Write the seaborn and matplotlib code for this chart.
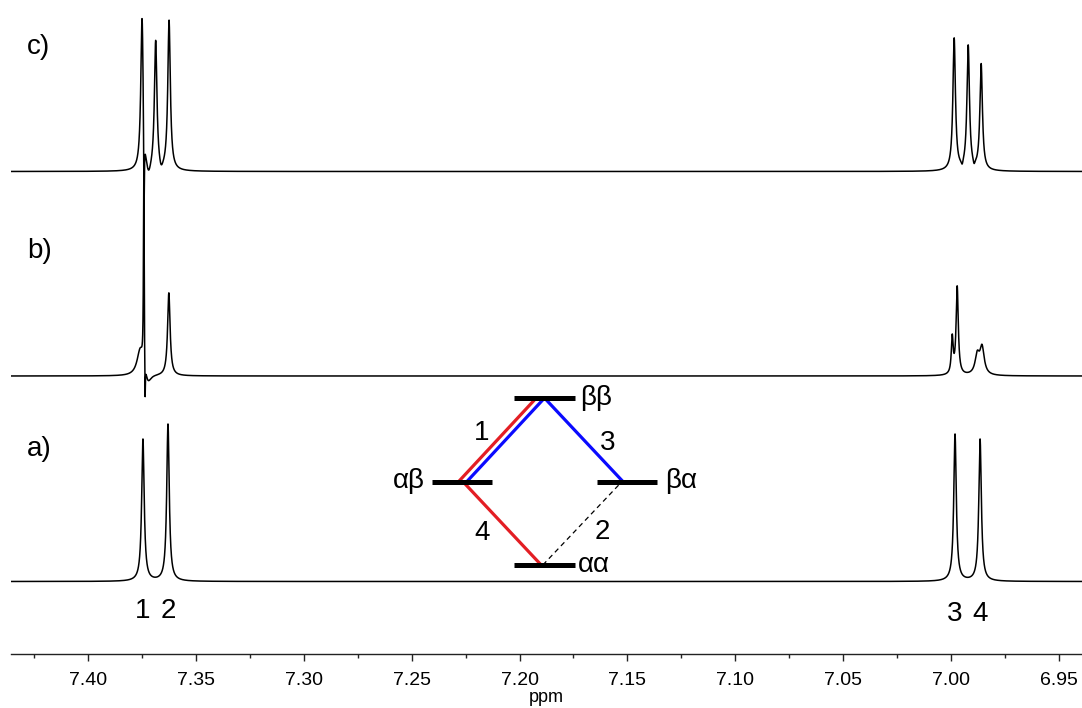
import numpy as np
import pandas as pd
import seaborn as sns
import matplotlib.pyplot as plt
from matplotlib.ticker import MultipleLocator, FormatStrFormatter

# peak tables: position (ppm), height, half width (ppm)
a_ppm = [7.3744, 7.3628, 6.9983, 6.9867]
a_height = [142, 157, 147, 142]
a_width = [0.0007, 0.0007, 0.0007, 0.0007]

b_ppm = [7.3740, 7.3756, 7.3722, 7.3734, 7.3624, 6.9996, 6.9973, 6.9880, 6.9858]
b_height = [195, 28, -12, -43, 83, 36, 88, 19, 27]
b_width = [0.0002, 0.0018, 0.0018, 0.00015, 0.0007, 0.0005, 0.0006, 0.0012, 0.0012]

c_ppm = [7.3748, 7.3739, 7.3718, 7.3685, 7.3660, 7.3623,
         6.9987, 6.9950, 6.9922, 6.9895, 6.9862]
c_height = [157, -95, -12, 130, -8, 150, 132, -5, 124, -5, 106]
c_width = [0.0007, 0.0002, 0.0012, 0.0007, 0.0010, 0.0007,
           0.0007, 0.0005, 0.0007, 0.0005, 0.0007]

trace_names = ['a)', 'b)', 'c)']
peak_labels = ['1', '2', '3', '4']

# energy level diagram
level_names = ['ββ', 'αβ', 'βα', 'αα']
level_x = [0, -1, 1, 0]
level_y = [2, 1, 1, 0]
trans_from = ['αβ', 'αβ', 'ββ', 'αβ', 'αα']
trans_to = ['ββ', 'ββ', 'βα', 'αα', 'βα']
trans_label = ['1', '', '3', '4', '2']

# ---------------------------------------------------------------
W, H = 1082, 708
sns.set_style('white')
plt.rcParams['font.family'] = ['Liberation Sans', 'DejaVu Sans']
plt.rcParams['text.color'] = 'black'
plt.rcParams['axes.labelcolor'] = 'black'
plt.rcParams['xtick.color'] = 'black'


def spectrum(x, ppm, height, width):
    y = np.zeros_like(x)
    for x0, h, w in zip(ppm, height, width):
        y += h * w**2 / ((x - x0)**2 + w**2)
    return y


xmin, xmax = 7.4355, 6.9395
x = np.linspace(xmin, xmax, 20000)
offsets = [72.5, 278, 482.5]
tables = [(a_ppm, a_height, a_width),
          (b_ppm, b_height, b_width),
          (c_ppm, c_height, c_width)]

frames = []
for name, off, tab in zip(trace_names, offsets, tables):
    frames.append(pd.DataFrame({'ppm': x, 'y': spectrum(x, *tab) + off, 'trace': name}))
df = pd.concat(frames, ignore_index=True)

fig = plt.figure(figsize=(W / 100, H / 100), dpi=100)
ax = fig.add_axes([11 / W, (H - 654) / H, 1 - 11 / W, 654 / H])

sns.lineplot(data=df, x='ppm', y='y', units='trace', estimator=None,
             color='black', lw=1.1, sort=False, ax=ax)

ax.set_xlim(xmin, xmax)
ax.set_ylim(0, 654)
for s in ['left', 'right', 'top']:
    ax.spines[s].set_visible(False)
ax.spines['bottom'].set_linewidth(1.0)
ax.spines['bottom'].set_color('#222222')
ax.set_yticks([])
ax.set_ylabel('')
ax.xaxis.set_major_locator(MultipleLocator(0.05))
ax.xaxis.set_minor_locator(MultipleLocator(0.025))
ax.xaxis.set_major_formatter(FormatStrFormatter('%.2f'))
ax.tick_params(axis='x', which='both', bottom=True)
ax.tick_params(axis='x', which='major', direction='out', length=5, width=1,
               color='#222222', labelsize=14, pad=8)
ax.tick_params(axis='x', which='minor', direction='out', length=3, width=1,
               color='#222222')
ax.set_xlabel('ppm', fontsize=13, labelpad=0)

# trace labels
for name, yb in zip(trace_names, [456, 258, 54]):
    fig.text(27 / W, (H - yb) / H, name, fontsize=20, va='baseline', ha='left')

# peak numbers under trace a)
for lab, p, yb in zip(peak_labels, a_ppm, [36, 36, 33, 33]):
    ax.text(p, yb, lab, fontsize=20, ha='center', va='baseline')

# energy level diagram
ax2 = fig.add_axes([379.5 / W, (H - 606.75) / H, 330 / W, 250.5 / H])
ax2.set_xlim(-2, 2)
ax2.set_ylim(-0.5, 2.5)
ax2.axis('off')

lev = {n: (lx, ly) for n, lx, ly in zip(level_names, level_x, level_y)}
for n in level_names:
    lx, ly = lev[n]
    ax2.plot([lx - 0.364, lx + 0.364], [ly, ly], color='black', lw=3.6,
             solid_capstyle='butt', zorder=3)

trans_color = ['#e31e24', '#0a0aff', '#0a0aff', '#e31e24', 'black']
trans_dx = [(-0.04, -0.10), (0.06, 0.0), (0.0, -0.05), (0.01, -0.04), (-0.02, -0.06)]
for f, t, c, (d0, d1) in zip(trans_from, trans_to, trans_color, trans_dx):
    x0, y0 = lev[f]
    x1, y1 = lev[t]
    if c == 'black':
        ax2.plot([x0 + d0, x1 + d1], [y0, y1], color=c, lw=0.9,
                 linestyle=(0, (4, 3)), zorder=2)
    else:
        ax2.plot([x0 + d0, x1 + d1], [y0, y1], color=c, lw=2.3,
                 solid_capstyle='butt', zorder=2)

lab_pos = [(-0.76, 1.58), None, (0.76, 1.46), (-0.76, 0.38), (0.70, 0.40)]
for lab, pos in zip(trans_label, lab_pos):
    if lab:
        ax2.text(pos[0], pos[1], lab, fontsize=20, ha='center', va='center')

name_pos = {'ββ': (0.43, 'left'), 'αβ': (-1.45, 'right'),
            'βα': (1.46, 'left'), 'αα': (0.41, 'left')}
for n in level_names:
    tx, ha = name_pos[n]
    ax2.text(tx, lev[n][1], n, fontsize=20, ha=ha, va='center')

fig.savefig('out.png', dpi=100)
